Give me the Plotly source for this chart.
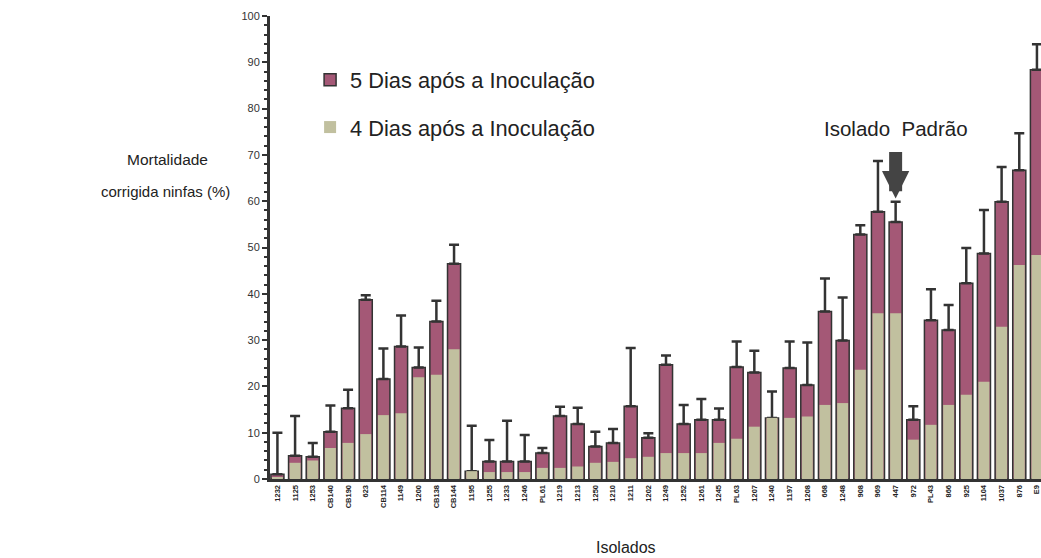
import plotly.graph_objects as go

# Isolates along the x axis
isolados = [
    "1232", "1125", "1253", "CB140", "CB190", "623", "CB114", "1149", "1200", "CB138", "CB144",
    "1195", "1255", "1233", "1246", "PL61", "1219", "1213", "1250", "1210", "1211", "1202",
    "1249", "1252", "1261", "1245", "PL63", "1207", "1240", "1197", "1208", "668", "1248",
    "908", "969", "447", "972", "PL43", "866", "925", "1104", "1037", "876", "E9",
]

# Corrected nymph mortality (%) five days after inoculation
mort_5dias = [
    1.0, 5.0, 4.8, 10.2, 15.3, 38.7, 21.6, 28.6, 24.1, 34.0, 46.5,
    1.7, 3.8, 3.8, 3.8, 5.6, 13.6, 11.9, 7.0, 7.8, 15.7, 8.9,
    24.7, 11.9, 12.8, 12.8, 24.2, 23.0, 13.2, 24.0, 20.3, 36.2, 29.9,
    52.8, 57.7, 55.5, 12.8, 34.3, 32.2, 42.3, 48.7, 59.9, 66.7, 88.4,
]

# Upper deviation of the five-day values
erro_5dias = [
    9.0, 8.6, 3.0, 5.7, 4.0, 1.0, 6.6, 6.7, 4.3, 4.5, 4.1,
    9.8, 4.6, 8.8, 5.7, 1.1, 2.0, 3.5, 3.2, 3.0, 12.6, 1.0,
    2.0, 4.1, 4.5, 2.4, 5.5, 4.7, 5.7, 5.7, 9.2, 7.1, 9.3,
    2.0, 11.0, 4.4, 2.9, 6.7, 5.4, 7.6, 9.4, 7.5, 8.0, 5.5,
]

# Corrected nymph mortality (%) four days after inoculation
mort_4dias = [
    0.3, 3.5, 4.0, 6.7, 7.8, 9.7, 13.8, 14.2, 22.0, 22.5, 28.0,
    1.7, 1.5, 1.5, 1.5, 2.4, 2.4, 2.7, 3.5, 3.7, 4.5, 4.8,
    5.6, 5.6, 5.6, 7.8, 8.7, 11.3, 13.2, 13.2, 13.5, 16.0, 16.4,
    23.6, 35.8, 35.8, 8.5, 11.7, 16.0, 18.2, 21.0, 32.9, 46.2, 48.4,
]

isolado_padrao = "447"
pos_padrao = isolados.index(isolado_padrao)

ESCURO = "#333333"
ROSA = "#a45876"
VERDE = "#c1c09f"
FONTE = "Liberation Sans, Arial, Helvetica, sans-serif"

fig = go.Figure()

fig.add_bar(
    x=isolados,
    y=mort_5dias,
    name="5 Dias após a Inoculação",
    legendgroup="d5",
    width=0.74,
    marker=dict(color=ROSA, line=dict(color=ESCURO, width=1.5)),
    error_y=dict(
        type="data",
        symmetric=False,
        array=erro_5dias,
        arrayminus=[0] * len(erro_5dias),
        color=ESCURO,
        thickness=2.5,
        width=5,
    ),
)

fig.add_bar(
    x=isolados,
    y=mort_4dias,
    name="4 Dias após a Inoculação",
    legendgroup="d4",
    width=0.62,
    marker=dict(color=VERDE, line=dict(color=ESCURO, width=0)),
)

fig.update_layout(
    width=1041,
    height=558,
    margin=dict(l=270, r=0, t=15.5, b=78.7),
    barmode="overlay",
    plot_bgcolor="white",
    paper_bgcolor="white",
    font=dict(family=FONTE, color="#222222"),
    showlegend=True,
    legend=dict(
        x=0.052,
        y=0.907,
        xanchor="left",
        yanchor="top",
        traceorder="grouped",
        tracegroupgap=16,
        font=dict(size=21.8, color="#222222"),
        bgcolor="rgba(0,0,0,0)",
    ),
    xaxis=dict(
        type="category",
        range=[-0.42, 43.23],
        showline=True,
        linewidth=3,
        linecolor=ESCURO,
        ticks="",
        tickangle=-90,
        tickfont=dict(size=7.5, color="#222222", weight="bold"),
        showgrid=False,
        zeroline=False,
    ),
    yaxis=dict(
        range=[0, 100],
        tickvals=list(range(0, 101, 10)),
        ticks="outside",
        ticklen=5,
        tickwidth=2,
        tickcolor=ESCURO,
        minor=dict(dtick=2, ticks="outside", ticklen=3, tickwidth=1.5, tickcolor=ESCURO),
        showline=True,
        linewidth=3,
        linecolor=ESCURO,
        showgrid=False,
        zeroline=False,
        tickfont=dict(size=11, color="#333333"),
    ),
)

# Y axis title, two lines
fig.add_annotation(
    text="Mortalidade",
    xref="paper", yref="paper",
    x=-0.133, y=0.689,
    xanchor="center", yanchor="middle",
    showarrow=False,
    font=dict(size=15.5, color="#222222"),
)
fig.add_annotation(
    text="corrigida ninfas (%)",
    xref="paper", yref="paper",
    x=-0.136, y=0.622,
    xanchor="center", yanchor="middle",
    showarrow=False,
    font=dict(size=15, color="#222222"),
)
# X axis title
fig.add_annotation(
    text="Isolados",
    xref="paper", yref="paper",
    x=0.4617, y=-0.148,
    xanchor="center", yanchor="middle",
    showarrow=False,
    font=dict(size=16, color="#222222"),
)

# Reference isolate label and arrow
fig.add_annotation(
    text="Isolado&nbsp;&nbsp;Padrão",
    x=pos_padrao, y=75.7,
    xanchor="center", yanchor="middle",
    showarrow=False,
    font=dict(size=20.5, color="#222222"),
)
fig.add_annotation(
    text="",
    x=pos_padrao, y=60.6,
    ax=0, ay=-48,
    showarrow=True,
    arrowhead=2,
    arrowsize=0.42,
    arrowwidth=13,
    arrowcolor="#444444",
    standoff=0,
)

fig.write_html("out.html")
